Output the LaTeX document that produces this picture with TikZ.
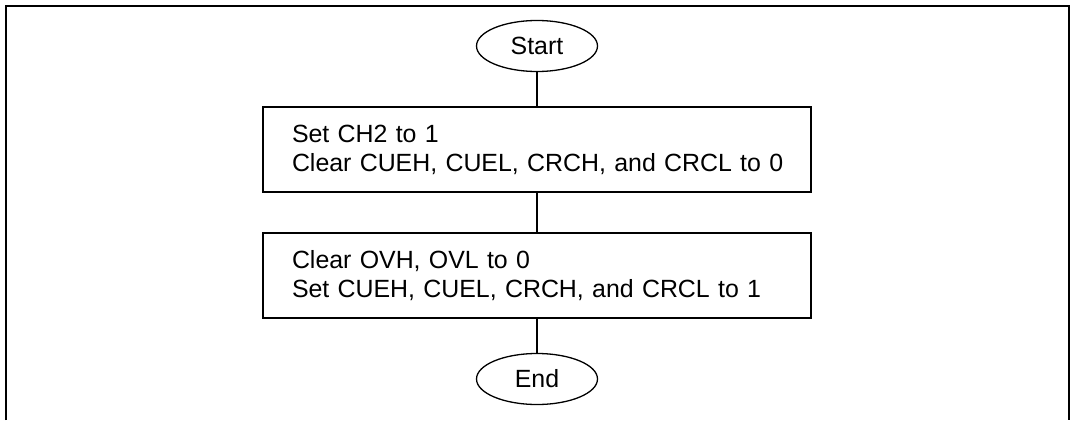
\documentclass[tikz,border=0pt]{standalone}
\usepackage{fontspec}
\setmainfont{Liberation Sans}
\usetikzlibrary{shapes.geometric}
\begin{document}
\begin{tikzpicture}[x=1pt,y=-1pt,
  term/.style={draw, ellipse, line width=1.3pt, minimum width=121pt, minimum height=51pt, inner sep=0pt, font=\fontsize{24.9}{29}\selectfont},
  procbox/.style={draw, rectangle, line width=1.3pt, minimum width=548pt, minimum height=85pt, inner sep=0pt, text width=490pt, align=left, font=\fontsize{24.9}{29}\selectfont},
  conn/.style={line width=1.3pt}]
\useasboundingbox (0,0) rectangle (1075,420);
\draw[line width=2.3pt] (6,420) -- (6,6) -- (1069,6) -- (1069,420);
\node[term] (start) at (537,46) {Start};
\node[procbox] (b1) at (537,149.5) {\mbox{Set CH2 to 1}\\\mbox{Clear CUEH, CUEL, CRCH, and CRCL to 0}};
\node[procbox] (b2) at (537,275.5) {\mbox{Clear OVH, OVL to 0}\\\mbox{Set CUEH, CUEL, CRCH, and CRCL to 1}};
\node[term] (end) at (537,379) {End};
\draw[conn] (start) -- (b1);
\draw[conn] (b1) -- (b2);
\draw[conn] (b2) -- (end);
\end{tikzpicture}
\end{document}
